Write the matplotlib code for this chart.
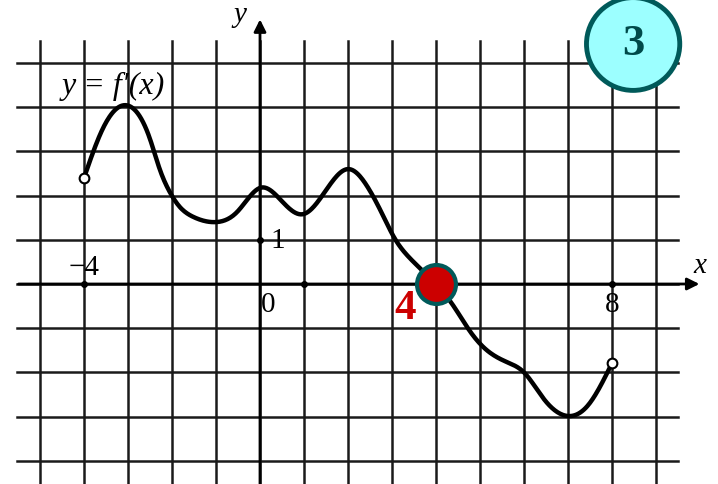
import numpy as np
import matplotlib
matplotlib.use("Agg")
import matplotlib.pyplot as plt
from matplotlib.patches import Ellipse

curve_x = [-4.0, -3.58, -2.98, -2.5, -2.28, -2.05, -1.82, -1.52, -1.02, -0.52, 0.02,
           0.52, 0.98, 1.52, 2.0, 2.43, 2.8, 3.05, 3.42, 3.8, 4.0,
           4.4, 4.78, 5.17, 5.62, 6.0, 6.45, 6.95, 7.45, 8.0]
curve_y = [2.4, 3.5, 4.03, 3.28, 2.6, 2.08, 1.74, 1.52, 1.40, 1.63, 2.18,
           1.85, 1.58, 2.15, 2.6, 2.22, 1.54, 1.05, 0.57, 0.2, 0.0,
           -0.5, -1.08, -1.51, -1.77, -2.0, -2.6, -2.98, -2.75, -1.79]

grid_x = list(range(-5, 10))
grid_y = list(range(-4, 6))
tick_pts = [(-4, 0), (1, 0), (8, 0), (0, 1)]
zero_x = 4
badge_text = "3"


def natural_spline(xs, ys, n=600):
    xs = np.asarray(xs, float)
    ys = np.asarray(ys, float)
    m = len(xs)
    h = np.diff(xs)
    A = np.zeros((m, m))
    b = np.zeros(m)
    A[0, 0] = A[-1, -1] = 1
    for i in range(1, m - 1):
        A[i, i - 1] = h[i - 1]
        A[i, i] = 2 * (h[i - 1] + h[i])
        A[i, i + 1] = h[i]
        b[i] = 6 * ((ys[i + 1] - ys[i]) / h[i] - (ys[i] - ys[i - 1]) / h[i - 1])
    M = np.linalg.solve(A, b)
    xx = np.linspace(xs[0], xs[-1], n)
    idx = np.clip(np.searchsorted(xs, xx) - 1, 0, m - 2)
    x0, x1 = xs[idx], xs[idx + 1]
    hh = x1 - x0
    t0, t1 = x1 - xx, xx - x0
    yy = (M[idx] * t0**3 + M[idx + 1] * t1**3) / (6 * hh) \
        + (ys[idx] / hh - M[idx] * hh / 6) * t0 \
        + (ys[idx + 1] / hh - M[idx + 1] * hh / 6) * t1
    return xx, yy


fig = plt.figure(figsize=(7.18, 4.85), dpi=100)
ax = fig.add_axes([0, 0, 1, 1])
ax.set_xlim(-260 / 44, 458 / 44)
ax.set_ylim(-200 / 44.2, 285 / 44.2)
ax.axis("off")

serif = "Liberation Serif"
line_col = "#1a1a1a"

# grid
for gx in grid_x:
    ax.plot([gx, gx], [-4.6, 5.5], color=line_col, lw=1.8, zorder=1)
for gy in grid_y:
    ax.plot([-5.52, 9.5], [gy, gy], color=line_col, lw=1.8, zorder=1)

# axes with arrows
ax.annotate("", xy=(10.05, 0), xytext=(-5.55, 0),
            arrowprops=dict(arrowstyle="-|>", color="black", lw=2.0, mutation_scale=18))
ax.annotate("", xy=(0, 6.05), xytext=(0, -4.6),
            arrowprops=dict(arrowstyle="-|>", color="black", lw=2.0, mutation_scale=18))
ax.text(-0.45, 6.1, "y", fontsize=21, family=serif, style="italic", ha="center", va="center")
ax.text(10.0, 0.42, "x", fontsize=21, family=serif, style="italic", ha="center", va="center")

for px, py in tick_pts:
    ax.plot(px, py, "o", color="black", ms=4, zorder=3)
ax.text(-4.0, 0.38, "\u22124", fontsize=21, family=serif, ha="center", va="center")
ax.text(0.18, -0.45, "0", fontsize=21, family=serif, ha="center", va="center")
ax.text(0.4, 1.0, "1", fontsize=21, family=serif, ha="center", va="center")
ax.text(8.0, -0.45, "8", fontsize=21, family=serif, ha="center", va="center")

ax.text(-4.5, 4.5, "y = f\u2032(x)", fontsize=23, family=serif, style="italic",
        ha="left", va="center")

# curve
xx, yy = natural_spline(curve_x, curve_y)
ax.plot(xx, yy, color="black", lw=3.2, zorder=4, solid_capstyle="round")
ax.plot([curve_x[0], curve_x[-1]], [curve_y[0], curve_y[-1]], "o", ms=7,
        mfc="white", mec="black", mew=1.5, zorder=5)

# highlighted zero
ax.plot(zero_x, 0, "o", ms=28, mfc="#cc0000", mec="#005a5a", mew=3, zorder=6)
ax.text(zero_x - 0.7, -0.55, "4", fontsize=31, family=serif, weight="bold",
        color="#cc0000", ha="center", va="center", zorder=6)

# badge
ax.add_patch(Ellipse((8.48, 5.43), 2.12, 2.1, facecolor="#9cffff", edgecolor="#005a5a",
                     lw=3.5, zorder=7))
ax.text(8.48, 5.45, badge_text, fontsize=32, family=serif, weight="bold",
        color="#004a4a", ha="center", va="center", zorder=8)

fig.savefig("out.png", dpi=100)
